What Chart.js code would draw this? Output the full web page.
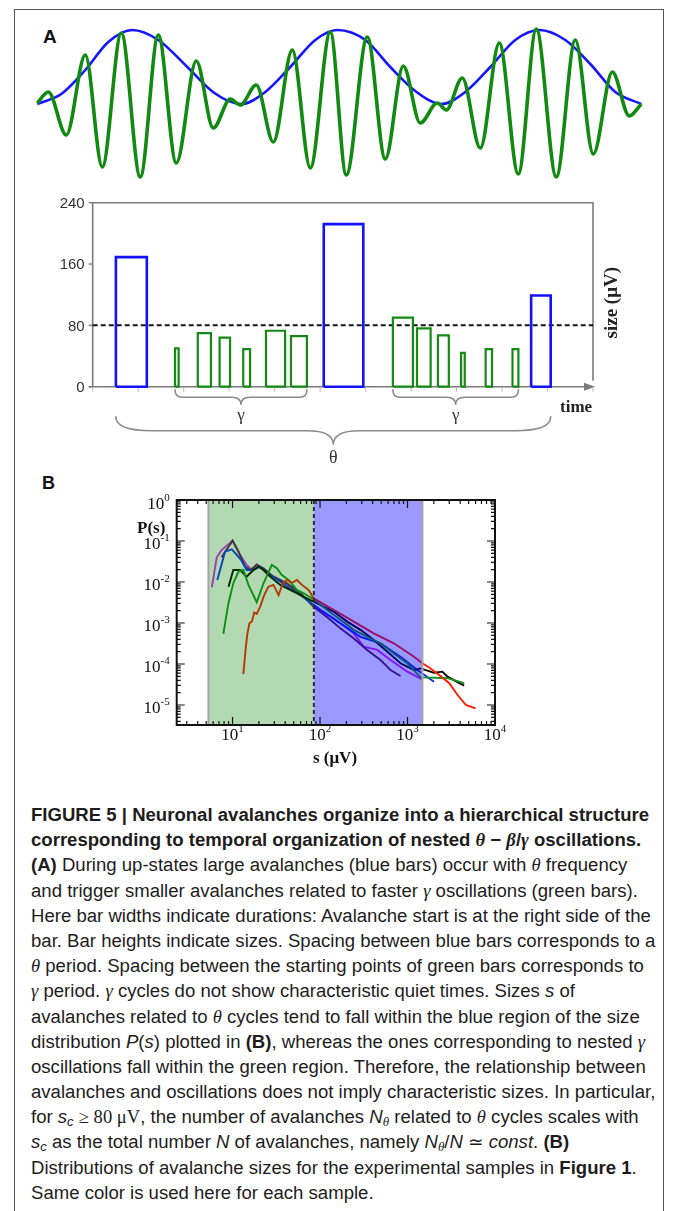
<!DOCTYPE html>
<html><head><meta charset="utf-8">
<script src="https://cdn.jsdelivr.net/npm/chart.js@4.4.1/dist/chart.umd.min.js"></script>
<style>
html,body{margin:0;padding:0;background:#fff;}
body{width:673px;height:1211px;position:relative;overflow:hidden;}
.frame{position:absolute;left:14px;top:9px;width:648px;height:1230px;border:1.5px solid #555;border-bottom:none;}
canvas{position:absolute;left:0;}
.lbl{position:absolute;font-family:"Liberation Sans",Arial,sans-serif;font-weight:bold;font-size:19px;line-height:1;color:#111;}
#cap{position:absolute;left:31px;top:803px;font-family:"Liberation Sans Narrow","Liberation Sans",Arial,sans-serif;font-size:18px;line-height:25.2px;color:#1e1c1c;}
#cap div{white-space:nowrap;transform-origin:0 0;height:25.2px;}
.g{font-family:"Liberation Serif","Times New Roman",serif;font-style:italic;}
.m{font-family:"Liberation Serif","Times New Roman",serif;}
sub{font-size:0.7em;vertical-align:-0.25em;line-height:0;}
</style></head>
<body>
<div class="frame"></div>
<div class="lbl" style="left:43px;top:27px">A</div>
<div class="lbl" style="left:42px;top:474px;font-size:18px">B</div>
<canvas id="wave" width="673" height="190" style="top:0"></canvas>
<canvas id="bars" width="673" height="280" style="top:190px"></canvas>
<canvas id="dist" width="673" height="300" style="top:470px"></canvas>
<div id="cap">
<div><b>FIGURE 5 | Neuronal avalanches organize into a hierarchical structure</b></div>
<div><b>corresponding to temporal organization of nested <span class="g">θ</span> − <span class="g">β</span>/<span class="g">γ</span> oscillations.</b></div>
<div><b>(A)</b> During up-states large avalanches (blue bars) occur with <span class="g">θ</span> frequency</div>
<div>and trigger smaller avalanches related to faster <span class="g">γ</span> oscillations (green bars).</div>
<div id="refline">Here bar widths indicate durations: Avalanche start is at the right side of the</div>
<div>bar. Bar heights indicate sizes. Spacing between blue bars corresponds to a</div>
<div><span class="g">θ</span> period. Spacing between the starting points of green bars corresponds to</div>
<div><span class="g">γ</span> period. <span class="g">γ</span> cycles do not show characteristic quiet times. Sizes <i>s</i> of</div>
<div>avalanches related to <span class="g">θ</span> cycles tend to fall within the blue region of the size</div>
<div>distribution <i>P</i>(<i>s</i>) plotted in <b>(B)</b>, whereas the ones corresponding to nested <span class="g">γ</span></div>
<div>oscillations fall within the green region. Therefore, the relationship between</div>
<div>avalanches and oscillations does not imply characteristic sizes. In particular,</div>
<div>for <i>s<sub>c</sub></i> <span class="m">≥ 80 μV</span>, the number of avalanches <i>N<sub class="g">θ</sub></i> related to <span class="g">θ</span> cycles scales with</div>
<div><i>s<sub>c</sub></i> as the total number <i>N</i> of avalanches, namely <i>N<sub class="g">θ</sub></i>/<i>N</i> <span class="m">≃</span> <i>const</i>. <b>(B)</b></div>
<div>Distributions of avalanche sizes for the experimental samples in <b>Figure 1</b>.</div>
<div>Same color is used here for each sample.</div>
</div>
<script>
// ---------- Panel A (top): theta and gamma oscillations ----------
const thetaT = [0,24,48,71,95,121,150,177,204,228,253,278,300,328,353,378,404,428,453,478,502,528,553,578,604];
const thetaA = [0,10,34,62,74,64,37,11,0,12,37,64,74,64,37,13,0,12,37,64,74,64,40,12,0];
const gammaT = [0,11,29,48,65,84,103,121,139,159,176,193,203,219,236,255,273,293,309,330,348,366,383,400,409,425,443,462,481,499,519,538,556,575,592,604];
const gammaA = [1,12,-31,49,-63,71,-73,69,-59,43,-24,5,-1,19,-38,54,-64,72,-71,67,-55,38,-19,1,-6,26,-44,61,-70,75,-73,64,-50,32,-12,0];

// ---------- Panel A (bars): avalanches ----------
const barStart = [0.51,1.81,2.31,2.79,3.31,3.81,4.36,5.08,6.60,7.13,7.59,8.10,8.64,9.23,9.64];
const barEnd   = [1.19,1.89,2.60,3.02,3.46,4.23,4.71,5.95,7.04,7.43,7.83,8.18,8.78,9.36,10.07];
const barSize  = [169,50,70,64,49,73,66,212,90,76,67,44,49,49,119];
const barBand  = ['θ','γ','γ','γ','γ','γ','γ','θ','γ','γ','γ','γ','γ','γ','θ'];
const sizeTicks = [0,80,160,240];
const threshold = 80;
const timeTicks = [0,1,2,3,4,5,6,7,8,9,10,11];

// ---------- Panel B: size distributions ----------
const sMagenta = [5.8,6.6,7.5,10,12.2,14.5,16.6,18.9,22.6,29.4,41.8,59.4,84.5,143,243,316,450,640,993,1476];
const pMagenta = [0.0074,0.040,0.060,0.102,0.0456,0.026,0.0196,0.027,0.0204,0.0135,0.0093,0.0053,0.0026,0.0013,0.00056,0.000265,0.00022,0.000125,0.000065,0.000042];
const sBlue = [6.7,8.2,9.8,11.2,12.7,14.5,17.3,20.7,24.6,35.1,59.4,101,171,290,491,832,1294,2010];
const pBlue = [0.0112,0.055,0.0626,0.0456,0.033,0.0196,0.0196,0.0237,0.0163,0.0102,0.0048,0.0021,0.00098,0.00046,0.00032,0.00015,0.000071,0.000037];
const sBlack = [9,10.2,12.2,14.5,17.3,19.8,22.6,26.9,35.1,49.9,71,101,143,204,290,412,586,832,1186,1413,2010,2506,2860,4440];
const pBlack = [0.0077,0.0196,0.0196,0.0135,0.0196,0.0237,0.0196,0.0135,0.0085,0.0058,0.0040,0.00275,0.0019,0.00108,0.00068,0.000385,0.0002,0.000104,0.000071,0.000078,0.000061,0.000065,0.000049,0.0000296];
const sDark = [7.5,10,11.7,13.9,16,18.9,22.6,29.4,41.8,59.4,84.5,120,171,243,346,491,640,832];
const pDark = [0.040,0.102,0.055,0.0237,0.0196,0.026,0.0216,0.0135,0.0093,0.0053,0.0025,0.0014,0.00074,0.00042,0.00022,0.000125,0.000071,0.000051];
const sGreen = [7.85,8.96,10.2,11.7,13.3,15.2,18.9,22.6,28.1,32.1,36.6,43.7,54.4,64.9,84.5,120,171,243,346,491,698,993,1413,2100,2860,4440];
const pGreen = [0.00054,0.0030,0.0093,0.0179,0.0196,0.0085,0.0032,0.0093,0.026,0.0216,0.0148,0.0112,0.0064,0.0053,0.0038,0.0021,0.0012,0.00068,0.00046,0.00032,0.00018,0.000104,0.000047,0.000046,0.000045,0.000034];
const sRed = [13.3,14.2,14.8,15.6,16.6,17.7,18.9,20.7,23,25.7,29.4,33.6,37.6,41.8,47.8,54.4,62.1,74.1,84.5,143,243,412,698,1186,1476,1800,2400,3000,3700,4650,6000];
const pRed = [0.000057,0.000265,0.00056,0.00098,0.00108,0.0018,0.00166,0.0025,0.0048,0.0077,0.0085,0.0048,0.0093,0.0112,0.0096,0.0112,0.0085,0.0064,0.0040,0.0021,0.00108,0.00056,0.00032,0.00015,0.000104,0.00008,0.00005,0.000034,0.000018,0.00001,0.0000083];
const greenBand = [5.3, 85];
const blueBand = [85, 1480];
const sTicks = [10,100,1000,10000];
const sTickExp = ['1','2','3','4'];
const pTicks = [1,0.1,0.01,0.001,0.0001,0.00001];
const pTickExp = ['0','-1','-2','-3','-4','-5'];

const pts = (xs, ys) => xs.map((v,i)=>({x:v,y:ys[i]}));
const base = {responsive:false, animation:false, devicePixelRatio:1, events:[],
  plugins:{legend:{display:false}, tooltip:{enabled:false}}};

// ----- wave chart -----
new Chart(document.getElementById('wave'), {
  type:'line',
  data:{datasets:[
    {data:pts(gammaT,gammaA), borderColor:'#128a12', borderWidth:3.6, pointRadius:0, cubicInterpolationMode:'monotone', clip:false},
    {data:pts(thetaT,thetaA), borderColor:'#1414ff', borderWidth:2.6, pointRadius:0, cubicInterpolationMode:'monotone', clip:false}
  ]},
  options:Object.assign({}, base, {
    layout:{padding:{left:37.3,right:31.7,top:24,bottom:6}},
    scales:{x:{type:'linear',min:0,max:604,display:false}, y:{type:'linear',min:-80,max:80,display:false}}
  })
});

// ----- bar chart -----
function brace(ctx, x1, x2, y0, h, rs, rm){
  const m=(x1+x2)/2, yl=y0+h*0.5, yt=y0+h;
  ctx.beginPath();
  ctx.moveTo(x1,y0);
  ctx.quadraticCurveTo(x1,yl,x1+rs,yl);
  ctx.lineTo(m-rm,yl);
  ctx.quadraticCurveTo(m,yl,m,yt);
  ctx.quadraticCurveTo(m,yl,m+rm,yl);
  ctx.lineTo(x2-rs,yl);
  ctx.quadraticCurveTo(x2,yl,x2,y0);
  ctx.stroke();
}
const barDecor = {
  id:'barDecor',
  beforeDatasetsDraw(chart){
    const {ctx, chartArea:a, scales:{x,y}} = chart;
    ctx.save();
    ctx.strokeStyle='#7a7a7a'; ctx.lineWidth=1.6;
    ctx.beginPath(); ctx.moveTo(a.left,a.bottom); ctx.lineTo(a.left,a.top); ctx.lineTo(a.right,a.top); ctx.lineTo(a.right,a.bottom-6); ctx.stroke();
    ctx.beginPath(); ctx.moveTo(a.left-4,a.bottom); ctx.lineTo(a.right-4,a.bottom); ctx.stroke();
    ctx.fillStyle='#7a7a7a';
    ctx.beginPath(); ctx.moveTo(a.right+2,a.bottom); ctx.lineTo(a.right-9,a.bottom-4); ctx.lineTo(a.right-9,a.bottom+4); ctx.closePath(); ctx.fill();
    // y ticks
    ctx.lineWidth=1.4;
    ctx.font='15px "Liberation Sans", Arial, sans-serif'; ctx.fillStyle='#333'; ctx.textAlign='right'; ctx.textBaseline='middle';
    sizeTicks.forEach(v=>{ const py=y.getPixelForValue(v);
      ctx.beginPath(); ctx.moveTo(a.left-4,py); ctx.lineTo(a.left,py); ctx.stroke();
      ctx.fillText(String(v), a.left-8, py+1); });
    // x ticks
    ctx.strokeStyle='#c4c4c4'; ctx.lineWidth=1.2;
    timeTicks.forEach(t=>{ const px=x.getPixelForValue(t);
      ctx.beginPath(); ctx.moveTo(px,a.bottom+1); ctx.lineTo(px,a.bottom+5); ctx.stroke(); });
    ctx.restore();
  },
  afterDraw(chart){
    const {ctx, chartArea:a, scales:{x,y}} = chart;
    ctx.save();
    ctx.strokeStyle='#8a8a8a'; ctx.lineWidth=1.6; ctx.lineCap='round';
    // gamma braces over consecutive gamma bars
    const groups=[]; let cur=null;
    barBand.forEach((b,i)=>{ if(b==='γ'){ if(!cur){cur=[i,i];groups.push(cur);} else cur[1]=i; } else cur=null; });
    ctx.font='17px "Liberation Serif", "Times New Roman", serif'; ctx.fillStyle='#333'; ctx.textAlign='center'; ctx.textBaseline='alphabetic';
    groups.forEach(g=>{
      const x1=x.getPixelForValue(barStart[g[0]]), x2=x.getPixelForValue(barEnd[g[1]]);
      brace(ctx,x1,x2,a.bottom+3,15,7,9);
      ctx.fillText('γ',(x1+x2)/2,a.bottom+33);
    });
    const th=barBand.map((b,i)=>b==='θ'?i:-1).filter(i=>i>=0);
    const tx1=x.getPixelForValue(barStart[th[0]]), tx2=x.getPixelForValue(barEnd[th[th.length-1]]);
    brace(ctx,tx1,tx2,a.bottom+30,28,36,26);
    ctx.font='18px "Liberation Serif", "Times New Roman", serif';
    ctx.fillText('θ',(tx1+tx2)/2,a.bottom+76);
    // axis titles
    ctx.fillStyle='#222';
    ctx.font='bold 17px "Liberation Serif", "Times New Roman", serif'; ctx.textAlign='left';
    ctx.fillText('time', a.right-33, a.bottom+25);
    ctx.translate(a.right+19, (a.top+a.bottom)/2+8); ctx.rotate(-Math.PI/2);
    ctx.font='bold 19px "Liberation Serif", "Times New Roman", serif'; ctx.textAlign='center'; ctx.textBaseline='middle';
    ctx.fillText('size (μV)',0,0);
    ctx.restore();
  }
};
const barSets = barStart.map((s,i)=>({
  data:[{x:s,y:0},{x:s,y:barSize[i]},{x:barEnd[i],y:barSize[i]},{x:barEnd[i],y:0},{x:s,y:0}],
  borderColor: barBand[i]==='θ' ? '#1212ff' : '#148a14',
  borderWidth: barBand[i]==='θ' ? 2.6 : 2.2,
  pointRadius:0, tension:0, borderJoinStyle:'miter', clip:false
}));
barSets.push({data:[{x:0,y:threshold},{x:11,y:threshold}], borderColor:'#111', borderWidth:2, borderDash:[5,3], pointRadius:0, clip:false});
new Chart(document.getElementById('bars'), {
  type:'line',
  data:{datasets:barSets},
  options:Object.assign({}, base, {
    layout:{padding:{left:92.7,right:80,top:12.7,bottom:83.3}},
    scales:{x:{type:'linear',min:0,max:11,display:false}, y:{type:'linear',min:0,max:240,display:false}}
  }),
  plugins:[barDecor]
});

// ----- distribution chart -----
function powLabel(ctx, exp, xl, yb){
  ctx.font='17px "Liberation Serif", "Times New Roman", serif';
  const w=ctx.measureText('10').width;
  ctx.fillText('10', xl, yb);
  ctx.font='11px "Liberation Serif", "Times New Roman", serif';
  ctx.fillText(exp, xl+w, yb-8);
}
function powWidth(ctx, exp){
  ctx.font='17px "Liberation Serif", "Times New Roman", serif';
  const w=ctx.measureText('10').width;
  ctx.font='11px "Liberation Serif", "Times New Roman", serif';
  return w+ctx.measureText(exp).width;
}
const distDecor = {
  id:'distDecor',
  afterDatasetsDraw(chart){
    const {ctx, chartArea:a, scales:{x}} = chart;
    const gx1=x.getPixelForValue(greenBand[0]), gx2=x.getPixelForValue(greenBand[1]);
    const bx1=x.getPixelForValue(blueBand[0]), bx2=x.getPixelForValue(blueBand[1]);
    ctx.save();
    ctx.fillStyle='rgba(0,128,0,0.30)'; ctx.fillRect(gx1,a.top,gx2-gx1,a.bottom-a.top);
    ctx.fillStyle='rgba(0,0,255,0.40)'; ctx.fillRect(bx1,a.top,bx2-bx1,a.bottom-a.top);
    ctx.strokeStyle='#a4a4a4'; ctx.lineWidth=2;
    [gx1,bx2].forEach(px=>{ctx.beginPath(); ctx.moveTo(px,a.top); ctx.lineTo(px,a.bottom); ctx.stroke();});
    ctx.strokeStyle='#2a2a3a'; ctx.setLineDash([4,3]);
    ctx.beginPath(); ctx.moveTo(gx2,a.top); ctx.lineTo(gx2,a.bottom); ctx.stroke();
    ctx.restore();
  },
  afterDraw(chart){
    const {ctx, chartArea:a, scales:{x,y}} = chart;
    ctx.save();
    ctx.strokeStyle='#111'; ctx.lineWidth=2;
    ctx.strokeRect(a.left,a.top,a.right-a.left,a.bottom-a.top);
    ctx.lineWidth=1.2;
    const xmin=x.min, xmax=x.max, ymin=y.min, ymax=y.max;
    for(let d=Math.floor(Math.log10(xmin)); d<=Math.ceil(Math.log10(xmax)); d++){
      for(let k=1;k<=9;k++){ const v=k*Math.pow(10,d); if(v<xmin*0.999||v>xmax*1.001) continue;
        const px=x.getPixelForValue(v), L=k===1?8:4;
        ctx.beginPath(); ctx.moveTo(px,a.bottom); ctx.lineTo(px,a.bottom-L); ctx.moveTo(px,a.top); ctx.lineTo(px,a.top+L); ctx.stroke(); }
    }
    for(let d=Math.floor(Math.log10(ymin)); d<=Math.ceil(Math.log10(ymax)); d++){
      for(let k=1;k<=9;k++){ const v=k*Math.pow(10,d); if(v<ymin*0.999||v>ymax*1.001) continue;
        const py=y.getPixelForValue(v), L=k===1?8:4;
        ctx.beginPath(); ctx.moveTo(a.left,py); ctx.lineTo(a.left+L,py); ctx.moveTo(a.right,py); ctx.lineTo(a.right-L,py); ctx.stroke(); }
    }
    ctx.fillStyle='#111'; ctx.textAlign='left'; ctx.textBaseline='alphabetic';
    sTicks.forEach((v,i)=>{ const px=x.getPixelForValue(v); const w=powWidth(ctx,sTickExp[i]);
      powLabel(ctx,sTickExp[i],px-w/2,a.bottom+15); });
    pTicks.forEach((v,i)=>{ const py=y.getPixelForValue(v); const w=powWidth(ctx,pTickExp[i]);
      powLabel(ctx,pTickExp[i],a.left-7-w,py+8.5); });
    ctx.font='bold 17px "Liberation Serif", "Times New Roman", serif';
    ctx.fillText('P(s)', 137, 63);
    ctx.textAlign='center';
    ctx.fillText('s (μV)', 335, a.bottom+38);
    ctx.restore();
  }
};
const line = (xs,ys,c)=>({data:pts(xs,ys), borderColor:c, borderWidth:1.9, pointRadius:0, tension:0});
new Chart(document.getElementById('dist'), {
  type:'line',
  data:{datasets:[
    line(sRed,pRed,'#ff1a00'),
    line(sGreen,pGreen,'#14961a'),
    line(sBlack,pBlack,'#000000'),
    line(sBlue,pBlue,'#0a2aff'),
    line(sDark,pDark,'#5a1a50'),
    line(sMagenta,pMagenta,'#e020ff')
  ]},
  options:Object.assign({}, base, {
    layout:{padding:{left:176.7,right:178,top:30,bottom:45}},
    scales:{x:{type:'logarithmic',min:2.3,max:10000,display:false}, y:{type:'logarithmic',min:3.25e-6,max:1,display:false}}
  }),
  plugins:[distDecor]
});

// ----- caption fit -----
(function(){
  const ref=document.getElementById('refline');
  const k=624/ref.scrollWidth;
  document.querySelectorAll('#cap div').forEach(d=>{d.style.transform='scaleX('+k+')';});
})();
</script>
</body></html>
